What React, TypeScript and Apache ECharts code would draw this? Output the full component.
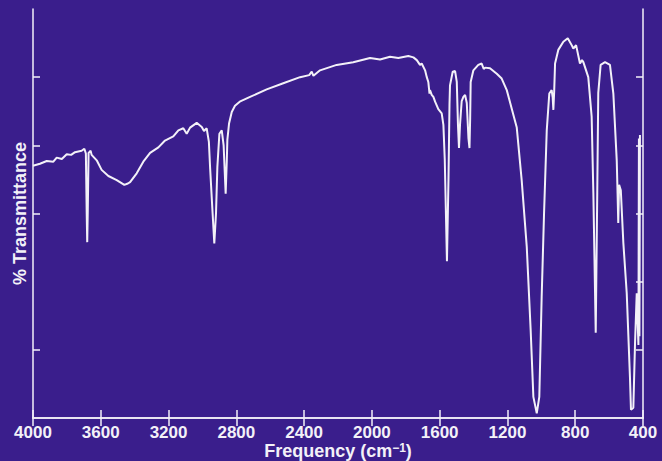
import React, { useEffect, useRef } from "react";
import * as echarts from "echarts";

// Wavenumber (cm^-1), descending
const wavenumbers: number[] = [
  4000, 3959, 3919, 3880, 3860, 3830, 3801, 3775, 3752, 3713, 3697, 3688, 3683, 3680, 3677, 3672,
  3660, 3654, 3624, 3595, 3555, 3506, 3461, 3440, 3427, 3388, 3349, 3309, 3260, 3221, 3172, 3142,
  3113, 3093, 3073, 3034, 3004, 2991, 2975, 2962, 2955, 2940, 2930, 2920, 2912, 2900, 2886, 2875,
  2863, 2856, 2853, 2843, 2827, 2808, 2780, 2719, 2621, 2523, 2424, 2370, 2355, 2345, 2306, 2208,
  2110, 2011, 1952, 1893, 1844, 1785, 1755, 1735, 1716, 1706, 1686, 1676, 1667, 1660, 1657, 1647,
  1637, 1627, 1608, 1588, 1578, 1570, 1557, 1548, 1542, 1539, 1523, 1509, 1499, 1492, 1486, 1480,
  1470, 1460, 1450, 1440, 1430, 1424, 1420, 1417, 1401, 1372, 1352, 1340, 1332, 1303, 1263, 1234,
  1204, 1175, 1145, 1116, 1086, 1063, 1047, 1027, 1012, 998, 984, 968, 953, 939, 933, 929,
  924, 919, 900, 870, 844, 821, 811, 795, 772, 760, 752, 723, 703, 693, 679, 670,
  664, 650, 624, 595, 575, 555, 551, 546, 541, 531, 516, 496, 477, 471, 457, 447,
  437, 427, 424, 421, 418,
];

// Transmittance (arbitrary units, axis 0..60, no labels in original)
const transmittance: number[] = [
  37.0, 37.3, 37.7, 37.6, 38.2, 38.0, 38.7, 38.6, 39.0, 39.2, 39.5, 38.8, 30.0, 25.8, 30.0, 38.9,
  39.2, 38.6, 37.8, 36.4, 35.5, 34.9, 34.2, 34.4, 34.6, 35.9, 37.6, 38.9, 39.7, 40.7, 41.3, 42.2,
  42.5, 41.7, 42.6, 43.3, 42.7, 42.1, 42.5, 40.5, 36.8, 30.0, 25.6, 30.0, 36.8, 41.7, 42.2, 40.0,
  32.9, 38.0, 40.8, 43.2, 44.9, 45.8, 46.4, 47.1, 48.2, 49.1, 50.0, 50.3, 50.8, 50.2, 51.0, 51.8,
  52.2, 52.8, 52.6, 53.0, 52.8, 53.1, 52.9, 52.5, 51.8, 52.0, 51.0, 50.0, 49.3, 47.6, 48.1, 47.4,
  47.1, 46.4, 45.3, 44.7, 43.0, 38.0, 23.0, 35.0, 46.0, 48.8, 50.8, 50.9, 49.3, 43.0, 39.6, 43.0,
  46.5, 47.1, 47.4, 46.2, 41.0, 39.6, 44.0, 49.3, 51.0, 51.8, 52.0, 51.2, 51.4, 51.3, 50.5, 49.8,
  48.1, 45.4, 42.6, 34.9, 25.1, 12.9, 3.1, 0.7, 3.1, 17.8, 30.0, 42.2, 47.6, 48.1, 47.0, 45.2,
  48.0, 52.0, 54.0, 55.2, 55.7, 54.7, 54.2, 54.7, 52.0, 52.5, 52.2, 50.0, 44.2, 33.0, 12.5, 33.0,
  47.7, 51.8, 52.2, 51.8, 47.6, 37.8, 33.9, 28.6, 34.2, 33.4, 25.7, 18.3, 6.0, 1.2, 1.5, 11.0,
  18.3, 10.7, 41.0, 12.0, 41.5,
];

const xMin = 400;
const xMax = 4000;
const xStep = 400;
const yMin = 0;
const yMax = 60;
const leftTicks = [10, 30, 40, 50];
const rightTicks = [10, 20, 30, 40, 50];

const BG = "#3a1e8c";
const FG = "#f3f1f8";
const FONT = "'Liberation Sans', Arial, sans-serif";

export default function App() {
  const ref = useRef<HTMLDivElement>(null);

  useEffect(() => {
    if (!ref.current) return;
    const chart = echarts.init(ref.current, null, { renderer: "svg" });
    const data = wavenumbers.map((w, i) => [w, transmittance[i]]);
    const axisLine = { show: true, lineStyle: { color: FG, width: 1.5 } };
    chart.setOption({
      animation: false,
      backgroundColor: BG,
      grid: {
        left: 33,
        right: 19,
        top: 9,
        bottom: 43,
        containLabel: false,
        outerBoundsMode: "none",
      },
      xAxis: [
        {
          type: "value",
          min: xMin,
          max: xMax,
          interval: xStep,
          inverse: true,
          position: "bottom",
          axisLine,
          axisTick: { show: true, inside: true, length: 8, lineStyle: { color: FG, width: 1.5 } },
          axisLabel: {
            color: FG,
            fontFamily: FONT,
            fontWeight: "bold",
            fontSize: 17,
            lineHeight: 18,
            margin: 5,
            showMinLabel: true,
            showMaxLabel: true,
            formatter: (v: number) => String(v),
          },
          splitLine: { show: false },
          name: "Frequency (cm{s|−1})",
          nameLocation: "middle",
          nameGap: 24,
          nameMoveOverlap: false,
          nameTextStyle: {
            color: FG,
            fontFamily: FONT,
            fontWeight: "bold",
            fontSize: 18,
            lineHeight: 18,
            rich: {
              s: {
                color: FG,
                fontFamily: FONT,
                fontWeight: "bold",
                fontSize: 12,
                verticalAlign: "top",
                lineHeight: 12,
              },
            },
          },
        },
        {
          type: "value",
          min: xMin,
          max: xMax,
          interval: xStep,
          inverse: true,
          position: "top",
          axisLine,
          axisTick: { show: true, inside: true, length: 8, lineStyle: { color: FG, width: 1.5 } },
          axisLabel: { show: false },
          splitLine: { show: false },
        },
      ],
      yAxis: [
        {
          type: "value",
          min: yMin,
          max: yMax,
          interval: 10,
          position: "left",
          axisLine,
          axisTick: {
            show: true,
            inside: true,
            length: 7,
            customValues: leftTicks,
            lineStyle: { color: FG, width: 1.5 },
          },
          axisLabel: { show: false },
          splitLine: { show: false },
          name: "% Transmittance",
          nameLocation: "middle",
          nameGap: 4,
          nameMoveOverlap: false,
          nameTextStyle: {
            color: FG,
            fontFamily: FONT,
            fontWeight: "bold",
            fontSize: 18,
          },
        },
        {
          type: "value",
          min: yMin,
          max: yMax,
          interval: 10,
          position: "right",
          axisLine,
          axisTick: {
            show: true,
            inside: true,
            length: 7,
            customValues: rightTicks,
            lineStyle: { color: FG, width: 1.5 },
          },
          axisLabel: { show: false },
          splitLine: { show: false },
        },
      ],
      series: [
        {
          type: "line",
          xAxisIndex: 0,
          yAxisIndex: 0,
          data,
          showSymbol: false,
          symbol: "none",
          lineStyle: { color: FG, width: 2 },
          silent: true,
        },
      ],
    });
    return () => chart.dispose();
  }, []);

  return (
    <div
      ref={ref}
      style={{ position: "absolute", left: 0, top: 0, width: 662, height: 461 }}
    />
  );
}
